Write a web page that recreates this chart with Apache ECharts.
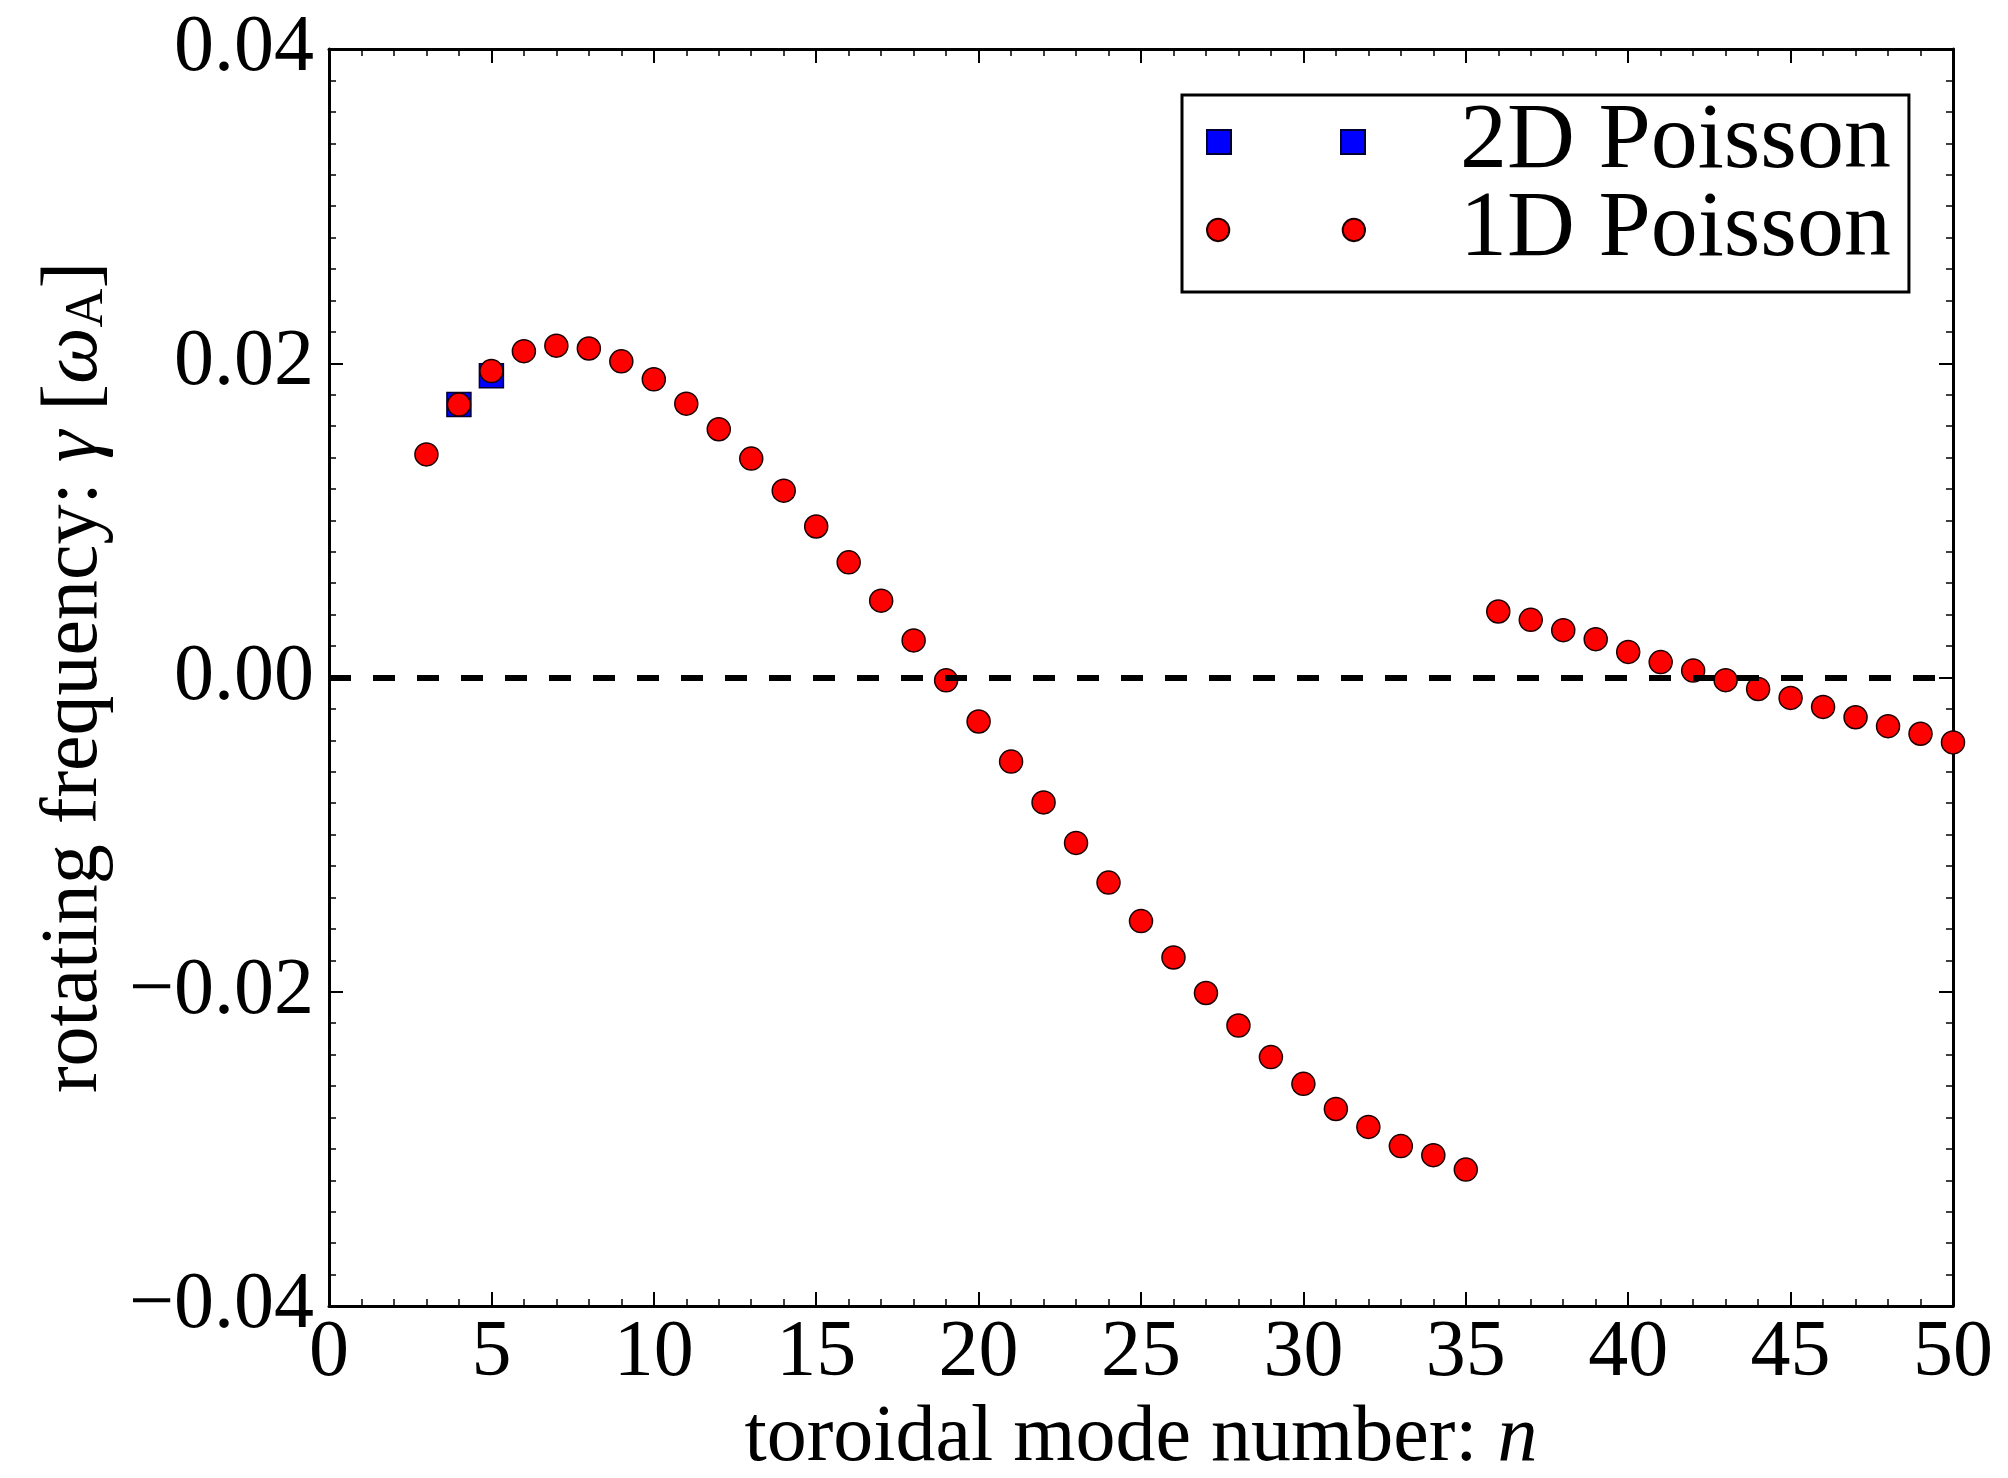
<!DOCTYPE html>
<html>
<head>
<meta charset="utf-8">
<title>rotating frequency vs toroidal mode number</title>
<script src="https://cdn.jsdelivr.net/npm/echarts@6/dist/echarts.min.js"></script>
<style>
  html, body { margin: 0; padding: 0; background: #fff; }
  #myChart { width: 2008px; height: 1478px; }
</style>
</head>
<body>
<div id="myChart"></div>
<script>
// 1D Poisson: toroidal mode number n and rotating frequency (units of omega_A)
var n1D = [3, 4, 5, 6, 7, 8, 9, 10, 11, 12, 13, 14, 15, 16, 17, 18, 19, 20, 21, 22, 23, 24, 25, 26,
           27, 28, 29, 30, 31, 32, 33, 34, 35, 36, 37, 38, 39, 40, 41, 42, 43, 44, 45, 46, 47, 48, 49, 50];
var gamma1D = [0.0142, 0.01737, 0.0195, 0.02077, 0.02112, 0.02094, 0.02012, 0.01898, 0.01743, 0.0158,
               0.01393, 0.01189, 0.00961, 0.00733, 0.00489, 0.00236, -0.00018, -0.0028, -0.00535, -0.00795,
               -0.01053, -0.01305, -0.0155, -0.01782, -0.02008, -0.02215, -0.02416, -0.02586, -0.02746, -0.0286,
               -0.02982, -0.0304, -0.03132, 0.0042, 0.00367, 0.00301, 0.00244, 0.00163, 0.00098, 0.00044,
               -0.00017, -0.00073, -0.0013, -0.00187, -0.00253, -0.0031, -0.00358, -0.00413];

// 2D Poisson: only two modes
var n2D = [4, 5];
var gamma2D = [0.01737, 0.0192];

var legendData = ['2D Poisson', '1D Poisson'];
var yTickValues = [-0.04, -0.02, 0, 0.02, 0.04];
var yTickLabels = ['\u22120.04', '\u22120.02', '0.00', '0.02', '0.04'];

var FONT = 'Liberation Serif';

function zip(xs, ys) {
  return xs.map(function (x, i) { return [x, ys[i]]; });
}

// frame + inward ticks, shared by all four axes
function frameAxis(extra) {
  var base = {
    type: 'value',
    axisLine: { show: true, onZero: false, lineStyle: { color: '#000', width: 3 } },
    axisTick: { show: true, inside: true, length: 14, lineStyle: { color: '#000', width: 2 } },
    minorTick: { show: true, inside: true, length: 7, lineStyle: { color: '#000', width: 1.5 } },
    splitLine: { show: false },
    minorSplitLine: { show: false }
  };
  for (var k in extra) base[k] = extra[k];
  return base;
}

var myChart = echarts.init(document.getElementById('myChart'));

var option = {
  backgroundColor: '#fff',
  animation: false,
  grid: {
    left: 329,
    right: 55,
    top: 49,
    bottom: 172,
    outerBoundsMode: 'none',
    containLabel: false
  },
  legend: {
    orient: 'vertical',
    left: 1182,
    top: 95,
    itemWidth: 158,
    itemHeight: 24,
    itemGap: -6,
    padding: [0, 18, 15, 24],
    borderColor: '#000',
    borderWidth: 3,
    backgroundColor: '#fff',
    selectedMode: false,
    textStyle: {
      fontFamily: FONT,
      fontSize: 94,
      color: '#000',
      padding: [0, 0, 0, 90]
    },
    // two markers per entry, like matplotlib's numpoints=2
    data: [
      { name: legendData[0], icon: 'path://M0,0L24,0L24,24L0,24Z M134,0L158,0L158,24L134,24Z' },
      { name: legendData[1], icon: 'path://M1,12A11,11 0 1 1 23,12A11,11 0 1 1 1,12Z M135,12A11,11 0 1 1 157,12A11,11 0 1 1 135,12Z' }
    ]
  },
  xAxis: [
    frameAxis({
      position: 'bottom',
      min: 0,
      max: 50,
      interval: 5,
      minorTick: { show: true, splitNumber: 5, length: 7, lineStyle: { color: '#000', width: 1.5 } },
      axisLabel: {
        show: true, margin: 8, color: '#000', fontFamily: FONT, fontSize: 80,
        showMinLabel: true, showMaxLabel: true
      },
      name: 'toroidal mode number: {i|n}',
      nameLocation: 'middle',
      nameGap: 82,
      nameTextStyle: {
        fontFamily: FONT, fontSize: 80, color: '#000', lineHeight: 80,
        rich: { i: { fontFamily: FONT, fontSize: 80, fontStyle: 'italic', lineHeight: 80 } }
      }
    }),
    frameAxis({
      position: 'top',
      min: 0,
      max: 50,
      interval: 5,
      minorTick: { show: true, splitNumber: 5, length: 7, lineStyle: { color: '#000', width: 1.5 } },
      axisLabel: { show: false }
    })
  ],
  yAxis: [
    frameAxis({
      position: 'left',
      min: -0.04,
      max: 0.04,
      interval: 0.02,
      minorTick: { show: true, splitNumber: 10, length: 7, lineStyle: { color: '#000', width: 1.5 } },
      axisLabel: {
        show: true, margin: 15, color: '#000', fontFamily: FONT, fontSize: 80,
        showMinLabel: true, showMaxLabel: true,
        formatter: function (v) {
          for (var i = 0; i < yTickValues.length; i++) {
            if (Math.abs(v - yTickValues[i]) < 1e-9) return yTickLabels[i];
          }
          return '';
        }
      },
      name: 'rotating frequency: {i|\u03b3} [{i|\u03c9}{s|A}]',
      nameLocation: 'middle',
      nameGap: 214,
      nameTextStyle: {
        fontFamily: FONT, fontSize: 80, color: '#000', lineHeight: 80,
        rich: {
          i: { fontFamily: FONT, fontSize: 80, fontStyle: 'italic', lineHeight: 80 },
          s: { fontFamily: FONT, fontSize: 54, lineHeight: 40, verticalAlign: 'bottom' }
        }
      }
    }),
    frameAxis({
      position: 'right',
      min: -0.04,
      max: 0.04,
      interval: 0.02,
      minorTick: { show: true, splitNumber: 10, length: 7, lineStyle: { color: '#000', width: 1.5 } },
      axisLabel: { show: false }
    })
  ],
  series: [
    {
      name: legendData[0],
      type: 'scatter',
      xAxisIndex: 0,
      yAxisIndex: 0,
      symbol: 'rect',
      symbolSize: 24,
      itemStyle: { color: '#0000ff', borderColor: '#000033', borderWidth: 1.5, opacity: 1 },
      data: zip(n2D, gamma2D)
    },
    {
      name: legendData[1],
      type: 'scatter',
      xAxisIndex: 0,
      yAxisIndex: 0,
      symbol: 'circle',
      symbolSize: 23,
      itemStyle: { color: '#ff0000', borderColor: '#1a0000', borderWidth: 1.5, opacity: 1 },
      // zero reference line
      markLine: {
        silent: true,
        symbol: 'none',
        label: { show: false },
        lineStyle: { color: '#000', width: 6, type: [22, 22] },
        data: [{ yAxis: 0 }]
      },
      data: zip(n1D, gamma1D)
    }
  ]
};

myChart.setOption(option);
</script>
</body>
</html>
